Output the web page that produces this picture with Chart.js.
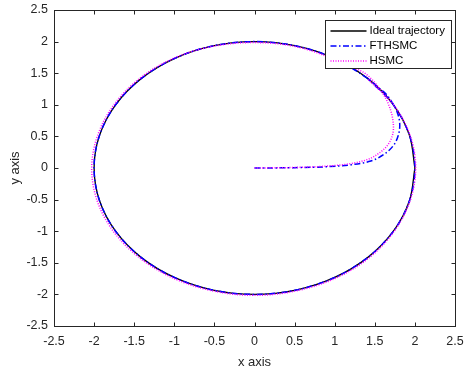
<!DOCTYPE html>
<html>
<head>
<meta charset="utf-8">
<script src="https://cdn.jsdelivr.net/npm/chart.js@4.4.1/dist/chart.umd.min.js"></script>
<style>
html, body { margin: 0; padding: 0; background: #fff; }
</style>
</head>
<body>
<canvas id="myChart" width="464" height="370"></canvas>
<script>
// valores
const xTicks = [-2.5, -2, -1.5, -1, -0.5, 0, 0.5, 1, 1.5, 2, 2.5]
const yTicks = [-2.5, -2, -1.5, -1, -0.5, 0, 0.5, 1, 1.5, 2, 2.5]

const seriesNames = ["Ideal trajectory", "FTHSMC", "HSMC"]

const idealX = [2, 1.932, 1.732, 1.414, 1, 0.518, 0, -0.518, -1, -1.414, -1.732, -1.932, -2,
    -1.932, -1.732, -1.414, -1, -0.518, 0, 0.518, 1, 1.414, 1.732, 1.932, 2]
const idealY = [0, 0.518, 1, 1.414, 1.732, 1.932, 2, 1.932, 1.732, 1.414, 1, 0.518, 0,
    -0.518, -1, -1.414, -1.732, -1.932, -2, -1.932, -1.732, -1.414, -1, -0.518, 0]

const fthsmcX = [0, 0.5, 0.9, 1.2, 1.45, 1.62, 1.74, 1.8, 1.81, 1.78, 1.72, 1.64, 1.53,
    1.414, 1, 0.518, 0, -0.518, -1, -1.414, -1.732, -1.932, -2,
    -1.932, -1.732, -1.414, -1, -0.518, 0, 0.518, 1, 1.414, 1.732, 1.932, 2,
    1.932, 1.732, 1.414]
const fthsmcY = [0, 0.005, 0.02, 0.05, 0.11, 0.22, 0.37, 0.55, 0.72, 0.88, 1.03, 1.17, 1.29,
    1.414, 1.732, 1.932, 2, 1.932, 1.732, 1.414, 1, 0.518, 0,
    -0.518, -1, -1.414, -1.732, -1.932, -2, -1.932, -1.732, -1.414, -1, -0.518, 0,
    0.518, 1, 1.414]

const hsmcX = [0, 0.5, 0.9, 1.2, 1.42, 1.58, 1.68, 1.73, 1.72, 1.67, 1.59, 1.48, 1.35, 1.2,
    1, 0.518, 0, -0.52, -1.01, -1.43, -1.75, -1.955, -2.03,
    -1.96, -1.755, -1.43, -1.01, -0.52, 0, 0.52, 1.01, 1.425, 1.74, 1.94, 2.01,
    1.94, 1.735, 1.41]
const hsmcY = [0, 0.008, 0.03, 0.07, 0.14, 0.26, 0.4, 0.58, 0.8, 1.01, 1.2, 1.38, 1.52, 1.6,
    1.72, 1.92, 1.985, 1.925, 1.735, 1.42, 1.005, 0.52, 0,
    -0.525, -1.01, -1.425, -1.745, -1.945, -2.015, -1.945, -1.745, -1.425, -1.005, -0.52, 0,
    0.52, 1, 1.41]

const axisColor = "#262626"
const fontFamily = "'Liberation Sans', Arial, Helvetica, sans-serif"

function toPoints(xs, ys) {
    return xs.map((x, i) => ({ x: x, y: ys[i] }))
}

// caja de ejes con marcas hacia adentro, como en MATLAB
const boxPlugin = {
    id: "boxPlugin",
    afterDraw(chart) {
        const ctx = chart.ctx
        const a = chart.chartArea
        const sx = chart.scales.x
        const sy = chart.scales.y
        const left = Math.round(a.left) + 0.5
        const right = Math.round(a.right) + 0.5
        const top = Math.round(a.top) + 0.5
        const bottom = Math.round(a.bottom) + 0.5
        ctx.save()
        ctx.strokeStyle = axisColor
        ctx.lineWidth = 1
        ctx.strokeRect(left, top, right - left, bottom - top)
        ctx.beginPath()
        xTicks.forEach((v) => {
            const px = Math.round(sx.getPixelForValue(v)) + 0.5
            ctx.moveTo(px, bottom); ctx.lineTo(px, bottom - 4)
            ctx.moveTo(px, top); ctx.lineTo(px, top + 4)
        })
        yTicks.forEach((v) => {
            const py = Math.round(sy.getPixelForValue(v)) + 0.5
            ctx.moveTo(left, py); ctx.lineTo(left + 4, py)
            ctx.moveTo(right, py); ctx.lineTo(right - 4, py)
        })
        ctx.stroke()

        // leyenda dentro del area (esquina superior derecha)
        const boxW = 126
        const boxH = 48
        const bx = Math.round(a.right) - 4 - boxW + 0.5
        const by = Math.round(a.top) + 10 + 0.5
        ctx.fillStyle = "#fff"
        ctx.fillRect(bx, by, boxW, boxH)
        ctx.strokeStyle = axisColor
        ctx.strokeRect(bx, by, boxW, boxH)
        ctx.font = "11.5px " + fontFamily
        ctx.textBaseline = "middle"
        ctx.textAlign = "left"
        chart.data.datasets.forEach((ds, i) => {
            const ly = Math.round(by + 10 + i * 15)
            ctx.save()
            ctx.strokeStyle = ds.borderColor
            ctx.lineWidth = ds.borderWidth
            ctx.setLineDash(ds.borderDash || [])
            ctx.beginPath()
            ctx.moveTo(bx + 5, ly)
            ctx.lineTo(bx + 41, ly)
            ctx.stroke()
            ctx.restore()
            ctx.fillStyle = "#000"
            ctx.fillText(ds.label, bx + 44, ly)
        })
        ctx.restore()
    }
}

const config = {
    type: "scatter",
    data: {
        datasets: [
            {
                label: seriesNames[0],
                data: toPoints(idealX, idealY),
                borderColor: "#000000",
                borderWidth: 1.3,
                showLine: true,
                tension: 0.34,
                pointRadius: 0,
                order: 3
            },
            {
                label: seriesNames[1],
                data: toPoints(fthsmcX, fthsmcY),
                borderColor: "#0000ff",
                borderWidth: 1.5,
                borderDash: [6, 2.5, 1.5, 2.5],
                showLine: true,
                tension: 0.34,
                pointRadius: 0,
                order: 2
            },
            {
                label: seriesNames[2],
                data: toPoints(hsmcX, hsmcY),
                borderColor: "#ff00ff",
                borderWidth: 1.5,
                borderDash: [1, 1.5],
                showLine: true,
                tension: 0.34,
                pointRadius: 0,
                order: 1
            }
        ]
    },
    options: {
        responsive: false,
        animation: false,
        devicePixelRatio: 1,
        layout: {
            padding: { top: 10, right: 9, left: 0, bottom: 0 }
        },
        plugins: {
            legend: { display: false },
            tooltip: { enabled: false }
        },
        scales: {
            x: {
                type: "linear",
                min: -2.5,
                max: 2.5,
                afterFit: (scale) => {
                    scale.height = 44
                    scale.paddingLeft = 0
                    scale.paddingRight = 0
                },
                afterBuildTicks: (scale) => { scale.ticks = xTicks.map((v) => ({ value: v })) },
                grid: { display: false, drawTicks: false },
                border: { display: false },
                ticks: {
                    color: axisColor,
                    padding: 8,
                    maxRotation: 0,
                    autoSkip: false,
                    callback: (value) => String(value),
                    font: { family: fontFamily, size: 12.5 }
                },
                title: {
                    display: true,
                    text: "x axis",
                    color: axisColor,
                    padding: { top: 0, bottom: 0 },
                    font: { family: fontFamily, size: 13 }
                }
            },
            y: {
                type: "linear",
                min: -2.5,
                max: 2.5,
                afterFit: (scale) => {
                    scale.width = 54
                    scale.paddingTop = 0
                    scale.paddingBottom = 0
                },
                afterBuildTicks: (scale) => { scale.ticks = yTicks.map((v) => ({ value: v })) },
                grid: { display: false, drawTicks: false },
                border: { display: false },
                ticks: {
                    color: axisColor,
                    padding: 6,
                    autoSkip: false,
                    callback: (value) => String(value),
                    font: { family: fontFamily, size: 12.5 }
                },
                title: {
                    display: true,
                    text: "y axis",
                    color: axisColor,
                    padding: { top: 8, bottom: 0 },
                    font: { family: fontFamily, size: 13 }
                }
            }
        }
    },
    plugins: [boxPlugin]
}

const chartDOM = document.getElementById("myChart")
new Chart(chartDOM, config)
</script>
</body>
</html>
